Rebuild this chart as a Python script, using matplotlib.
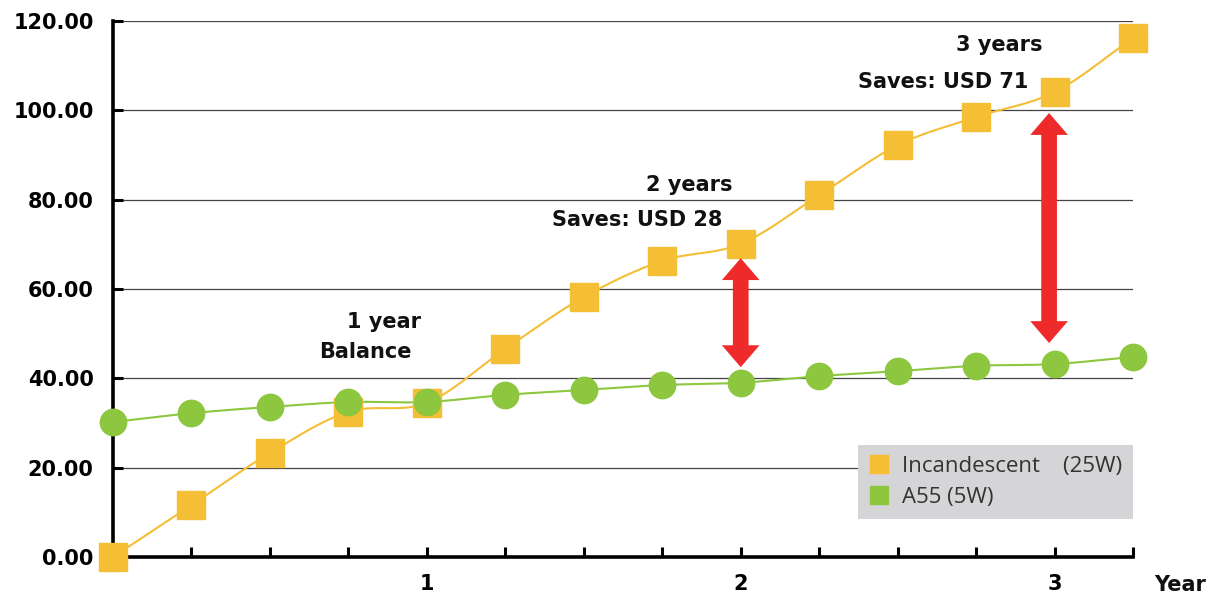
import matplotlib.pyplot as plt
import numpy as np
from matplotlib.lines import Line2D
from matplotlib.patches import Polygon

# quarters of a year, 0 .. 13
quarters = np.arange(14)
incandescent = [0, 11.6, 23.3, 32.5, 34.5, 46.6, 58.2, 66.3, 70.1, 81.0, 92.2, 98.5, 104.1, 116.2]
a55 = [30.2, 32.2, 33.6, 34.7, 34.7, 36.3, 37.4, 38.5, 39.0, 40.5, 41.6, 42.8, 43.2, 44.8]
y_ticks = [0, 20, 40, 60, 80, 100, 120]
year_ticks = {4: '1', 8: '2', 12: '3'}

ORANGE = '#f4be35'
GREEN = '#8dc63f'
RED = '#ee2a2b'


def smooth(x, y, n=20):
    # catmull-rom through the points, like the smoothed lines of the original
    x = np.asarray(x, float)
    y = np.asarray(y, float)
    yp = np.concatenate([[2 * y[0] - y[1]], y, [2 * y[-1] - y[-2]]])
    xs, ys = [], []
    for i in range(len(x) - 1):
        m0 = (yp[i + 2] - yp[i]) / 2
        m1 = (yp[i + 3] - yp[i + 1]) / 2
        t = np.linspace(0, 1, n, endpoint=False)
        h00 = 2 * t**3 - 3 * t**2 + 1
        h10 = t**3 - 2 * t**2 + t
        h01 = -2 * t**3 + 3 * t**2
        h11 = t**3 - t**2
        xs.append(x[i] + t * (x[i + 1] - x[i]))
        ys.append(h00 * y[i] + h10 * m0 + h01 * y[i + 1] + h11 * m1)
    xs.append([x[-1]])
    ys.append([y[-1]])
    return np.concatenate(xs), np.concatenate(ys)


def double_arrow(ax, xa, y0, y1, tail=0.1, head=0.24, hl=4.9):
    # vertical arrow with a head at both ends, as one polygon
    pts = [(xa, y0), (xa + head, y0 + hl), (xa + tail, y0 + hl),
           (xa + tail, y1 - hl), (xa + head, y1 - hl), (xa, y1),
           (xa - head, y1 - hl), (xa - tail, y1 - hl), (xa - tail, y0 + hl),
           (xa - head, y0 + hl)]
    ax.add_patch(Polygon(pts, closed=True, color=RED, lw=0, zorder=5))


fig = plt.figure(figsize=(12.1, 5.95), dpi=100)
ax = fig.add_axes([0.0934, 0.0639, 0.843, 0.9008])

# gridlines
for v in y_ticks[1:]:
    ax.axhline(v, color='#444444', lw=0.9, zorder=1)

sx, sy = smooth(quarters, incandescent)
ax.plot(sx, sy, color=ORANGE, lw=1.5, zorder=2, clip_on=False)
ax.plot(quarters, incandescent, ls='none', marker='s', ms=19.5, color=ORANGE,
        zorder=3, clip_on=False)

sx, sy = smooth(quarters, a55)
ax.plot(sx, sy, color=GREEN, lw=1.5, zorder=2, clip_on=False)
ax.plot(quarters, a55, ls='none', marker='o', ms=19, color=GREEN,
        zorder=4, clip_on=False)

double_arrow(ax, 8, 42.5, 66.9)
double_arrow(ax, 11.93, 47.9, 99.4)

tfont = dict(fontsize=15, fontweight='bold', color='#111111', family='DejaVu Sans')
ax.text(3.45, 52.6, '1 year', ha='center', va='center', **tfont)
ax.text(3.21, 45.9, 'Balance', ha='center', va='center', **tfont)
ax.text(7.35, 83.3, '2 years', ha='center', va='center', **tfont)
ax.text(5.6, 75.4, 'Saves: USD 28', ha='left', va='center', **tfont)
ax.text(11.3, 114.6, '3 years', ha='center', va='center', **tfont)
ax.text(9.5, 106.3, 'Saves: USD 71', ha='left', va='center', **tfont)

ax.set_xlim(0, 13)
ax.set_ylim(0, 120)
ax.set_yticks(y_ticks)
ax.set_yticklabels([f'{v:.2f}' for v in y_ticks])
ax.set_xticks(quarters[1:])
ax.set_xticklabels([year_ticks.get(q, '') for q in quarters[1:]])
ax.tick_params(axis='both', direction='in', length=7, width=2.2, labelsize=15, color='black')
ax.tick_params(axis='y', pad=14)
ax.tick_params(axis='x', pad=12)
for lab in ax.get_xticklabels() + ax.get_yticklabels():
    lab.set_fontweight('bold')

for s in ['top', 'right']:
    ax.spines[s].set_visible(False)
for s in ['left', 'bottom']:
    ax.spines[s].set_linewidth(2.6)
    ax.spines[s].set_zorder(2.5)

fig.text(0.975, 0.017, 'Year', ha='center', va='center', **tfont)

handles = [
    Line2D([], [], ls='none', marker='s', ms=13.5, color=ORANGE),
    Line2D([], [], ls='none', marker='s', ms=13.5, color=GREEN),
]
leg = ax.legend(handles, ['Incandescent    (25W)', 'A55 (5W)'], loc='lower right',
                bbox_to_anchor=(1.0, 0.071), borderaxespad=0, frameon=True,
                fancybox=False, facecolor='#d5d5d7', edgecolor='none', framealpha=1,
                prop={'family': 'Open Sans', 'size': 16}, labelcolor='#333333',
                handlelength=0.85, handletextpad=0.6, labelspacing=0.45,
                borderpad=0.5)
leg.set_zorder(6)

fig.savefig('out.png', dpi=100)
